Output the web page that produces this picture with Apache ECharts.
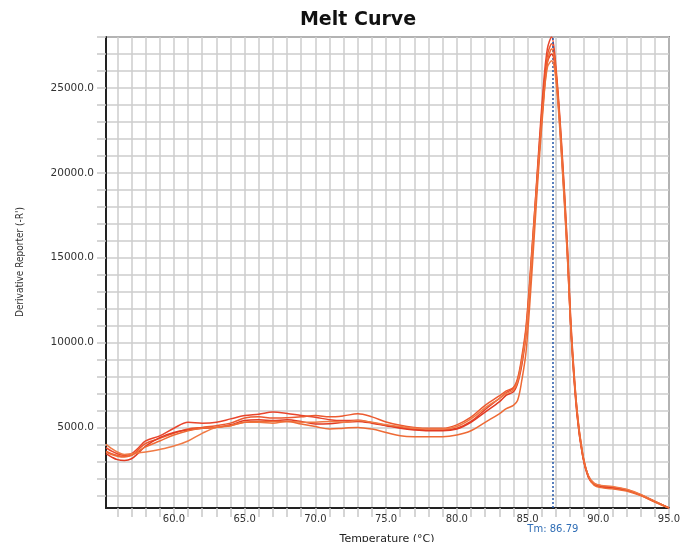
<!DOCTYPE html>
<html>
<head>
<meta charset="utf-8">
<script src="https://cdn.jsdelivr.net/npm/echarts@6/dist/echarts.min.js"></script>
<style>html,body{margin:0;padding:0;background:#fff}#c{width:691px;height:542px}</style>
</head>
<body>
<div id="c"></div>
<script>
// Temperatures (°C)
var temps = [55.2, 55.6, 56.0, 56.5, 57.0, 57.5, 58, 59, 60, 61, 62, 63, 64, 65, 66, 67, 68, 69, 70, 71, 72, 73, 74, 75, 76, 77, 78, 79, 80, 81, 82, 83, 83.5, 84, 84.3, 84.6, 84.9, 85.3, 85.7, 86.1, 86.4, 86.7, 87.0, 87.4, 87.8, 88.1, 88.5, 88.9, 89.3, 89.7, 90.2, 91, 92, 93, 94, 95];

// Derivative reporter (-R') for each well
var well1 = [3800, 3600, 3450, 3350, 3450, 3800, 4200, 4500, 4950, 5300, 5250, 5300, 5500, 5700, 5780, 5900, 5820, 5700, 5600, 5450, 5400, 5420, 5280, 5120, 5000, 4900, 4850, 4850, 4950, 5350, 6050, 6700, 7050, 7300, 7800, 9000, 10800, 15200, 20200, 24900, 27300, 28000, 26300, 21800, 16000, 10700, 6000, 3400, 2150, 1700, 1550, 1480, 1330, 1030, 640, 260];
var well2 = [3600, 3450, 3350, 3300, 3350, 3700, 4050, 4350, 4650, 4900, 5000, 5100, 5250, 5550, 5620, 5550, 5560, 5620, 5700, 5620, 5680, 5800, 5620, 5320, 5120, 5000, 4950, 4950, 5150, 5600, 6300, 6850, 7150, 7350, 7900, 9200, 11000, 15400, 20000, 24500, 26900, 27600, 26000, 21400, 15600, 10300, 5800, 3300, 2100, 1650, 1500, 1420, 1290, 1000, 620, 250];
var well3 = [3450, 3250, 3100, 3050, 3150, 3500, 3900, 4400, 4700, 4850, 4950, 5000, 5150, 5400, 5450, 5400, 5450, 5350, 5200, 5220, 5300, 5350, 5250, 5100, 4950, 4850, 4800, 4800, 4900, 5300, 5900, 6500, 6900, 7100, 7600, 8700, 10500, 14800, 19700, 24200, 26500, 27000, 25800, 21200, 15400, 10200, 5700, 3300, 2050, 1650, 1520, 1450, 1300, 1010, 630, 250];
var well4 = [4000, 3750, 3550, 3400, 3450, 3500, 3550, 3700, 3900, 4200, 4650, 5000, 5100, 5300, 5300, 5250, 5350, 5300, 5300, 5350, 5300, 5400, 5300, 5150, 5050, 4950, 4900, 4900, 5050, 5500, 6150, 6700, 7000, 7200, 7700, 8900, 10600, 15000, 19800, 24000, 26200, 26600, 25500, 21000, 15300, 10300, 5900, 3400, 2150, 1720, 1580, 1520, 1350, 1050, 650, 260];
var well5 = [3550, 3400, 3300, 3250, 3350, 3600, 3850, 4200, 4550, 4800, 4950, 5000, 5100, 5300, 5350, 5350, 5350, 5200, 5050, 4900, 4950, 5000, 4900, 4700, 4500, 4450, 4450, 4450, 4550, 4800, 5300, 5800, 6100, 6300, 6600, 7800, 9500, 14000, 19200, 23800, 26500, 27300, 26000, 21600, 15800, 10500, 6000, 3450, 2100, 1600, 1450, 1380, 1250, 980, 600, 240];

var wells = [well1, well2, well3, well4, well5];
var wellColors = ['#e8452c', '#ec5a30', '#e23a22', '#f07a45', '#ee6a35'];

// Tick values
var xTickValues = [];
for (var t = 56; t <= 95; t++) xTickValues.push(t);
var xLabelValues = [60, 65, 70, 75, 80, 85, 90, 95];
var yTickValues = [];
for (var v = 1000; v <= 28000; v += 1000) yTickValues.push(v);
var yLabelValues = [5000, 10000, 15000, 20000, 25000];
var tmValue = 86.79;

var chart = echarts.init(document.getElementById('c'), null, {renderer: 'canvas'});

var series = wells.map(function (w, i) {
  return {
    type: 'line',
    data: temps.map(function (x, j) { return [x, w[j]]; }),
    smooth: 0.35,
    symbol: 'none',
    lineStyle: {color: wellColors[i], width: 1.5},
    z: 3 + i
  };
});
series[0].markLine = {
  symbol: 'none',
  silent: true,
  animation: false,
  lineStyle: {color: '#2457a8', type: [2, 2], width: 1.5},
  label: {
    show: true,
    position: 'start',
    formatter: 'Tm: ' + tmValue.toFixed(2),
    color: '#2f6db5',
    fontFamily: 'DejaVu Sans',
    fontSize: 10,
    distance: 16
  },
  data: [{xAxis: tmValue}]
};

chart.setOption({
  animation: false,
  backgroundColor: '#ffffff',
  grid: {left: 106, right: 22, top: 37, bottom: 34, show: true, borderColor: '#3a3a3a', borderWidth: 1.5, backgroundColor: 'transparent'},
  xAxis: {
    type: 'value',
    min: 55.2,
    max: 95,
    axisLine: {show: true, lineStyle: {color: '#222', width: 2}},
    axisTick: {show: true, customValues: xTickValues, length: 9, lineStyle: {color: '#c8c8c8', width: 1.5}},
    splitLine: {show: true, lineStyle: {color: '#cccccc', width: 1.5}},
    axisLabel: {
      customValues: xLabelValues,
      formatter: function (v) { return v.toFixed(1); },
      color: '#333', fontFamily: 'DejaVu Sans', fontSize: 10, margin: 6
    }
  },
  yAxis: {
    type: 'value',
    min: 250,
    max: 28000,
    axisLine: {show: true, lineStyle: {color: '#222', width: 2}},
    axisTick: {show: true, customValues: yTickValues, length: 9, lineStyle: {color: '#c8c8c8', width: 1.5}},
    splitLine: {show: true, lineStyle: {color: '#cccccc', width: 1.5}},
    axisLabel: {
      customValues: yLabelValues,
      formatter: function (v) { return v.toFixed(1); },
      color: '#333', fontFamily: 'DejaVu Sans', fontSize: 10.5, margin: 12
    }
  },
  graphic: [
    {type: 'text', x: 358, y: 20, style: {text: 'Melt Curve', x: 0, y: 0, align: 'center', verticalAlign: 'middle', fill: '#111', font: 'bold 19px "DejaVu Sans", sans-serif'}},
    {type: 'text', x: 20, y: 262, rotation: Math.PI / 2, style: {text: "Derivative Reporter (-R')", align: 'center', verticalAlign: 'middle', fill: '#333', font: '10px "Liberation Sans Narrow", "DejaVu Sans Condensed", sans-serif'}},
    {type: 'text', x: 387, y: 539, style: {text: 'Temperature (°C)', align: 'center', verticalAlign: 'middle', fill: '#222', font: '11px "DejaVu Sans", sans-serif'}}
  ],
  series: series
});
</script>
</body>
</html>
